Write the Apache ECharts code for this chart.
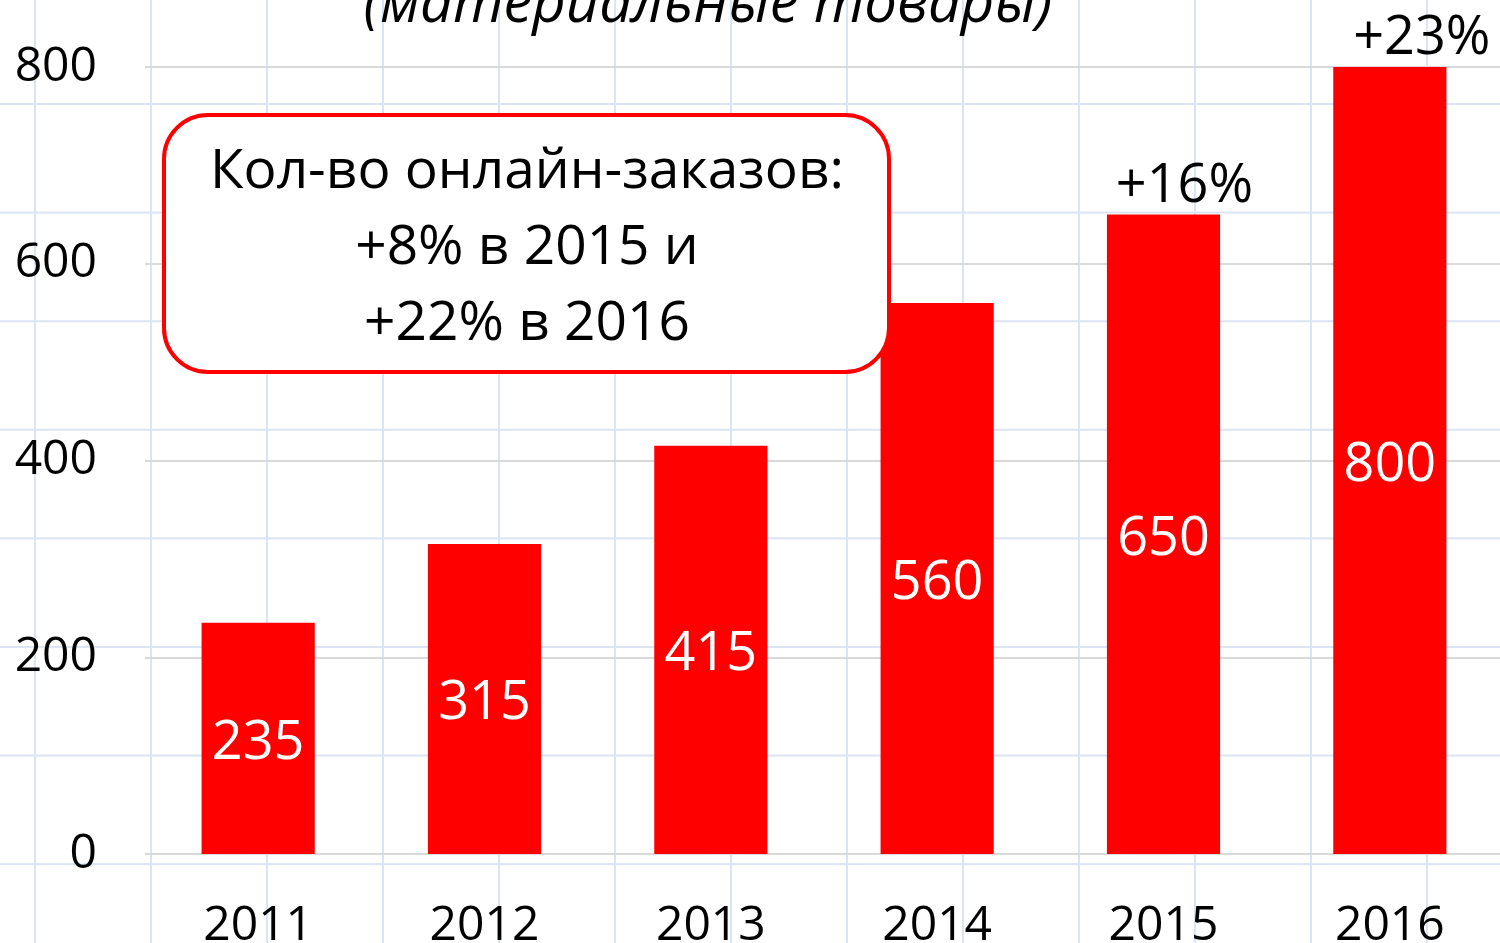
<!DOCTYPE html>
<html>
<head>
<meta charset="utf-8">
<script src="https://cdn.jsdelivr.net/npm/echarts@6/dist/echarts.min.js"></script>
<style>
html,body{margin:0;padding:0;width:1500px;height:943px;overflow:hidden;background:#fff;}
#c{width:1500px;height:943px;
background-image:linear-gradient(to right,#dae4f3 2px,transparent 2px),linear-gradient(to bottom,#dae4f3 2px,transparent 2px);
background-size:116px 108.6px;background-position:34px -5.6px;}
</style>
</head>
<body>
<div id="c"></div>
<script>
const categories = ['2011','2012','2013','2014','2015','2016'];
const values = [235, 315, 415, 560, 650, 800];
const growthLabels = ['', '', '', '', '+16%', '+23%'];
const yTicks = [0, 200, 400, 600, 800];
const titleText = '(материальные товары)';
const noteLines = ['Кол-во онлайн-заказов:', '+8% в 2015 и', '+22% в 2016'];

const FONT = '"Open Sans", "Noto Sans", sans-serif';
const labelOffsets = [[0,0],[0,0],[0,0],[0,0],[21,0],[32,0]];

const chart = echarts.init(document.getElementById('c'), null, {renderer:'canvas'});
chart.setOption({
  backgroundColor: 'transparent',
  animation: false,
  grid: {left: 145, top: 67, width: 1358, bottom: 89, containLabel: false, outerBoundsMode: 'none'},
  xAxis: {
    type: 'category',
    data: categories,
    axisLine: {show: false},
    axisTick: {show: false},
    axisLabel: {fontFamily: FONT, fontSize: 48, color: '#000', margin: 48}
  },
  yAxis: {
    type: 'value',
    min: yTicks[0],
    max: yTicks[yTicks.length-1],
    interval: 200,
    axisLine: {show: false},
    axisTick: {show: false},
    splitLine: {lineStyle: {color: '#d9d9d9', width: 2}},
    axisLabel: {fontFamily: FONT, fontSize: 48, color: '#000', margin: 48}
  },
  series: [
    {
      type: 'bar',
      data: values,
      barWidth: '50%',
      itemStyle: {color: '#ff0000'},
      label: {show: true, position: 'inside', offset: [0, 5], color: '#fff', fontFamily: FONT, fontSize: 54}
    },
    {
      type: 'bar',
      data: values.map((v,i)=>({value: v, label: {offset: labelOffsets[i]}})),
      barWidth: '50%',
      barGap: '-100%',
      itemStyle: {color: 'transparent'},
      label: {show: true, position: 'top', distance: 1, color: '#000', fontFamily: FONT, fontSize: 54,
        formatter: p => growthLabels[p.dataIndex]}
    }
  ],
  graphic: [
    {
      type: 'text', x: 708, y: -24, z: 100,
      style: {text: titleText, fill: '#000', font: 'italic 58px ' + FONT,
        textAlign: 'center', textVerticalAlign: 'top'}
    },
    {type: 'rect', z: 100, shape: {x: 164, y: 115, width: 725, height: 257, r: 44},
     style: {fill: '#fff', stroke: '#ff0000', lineWidth: 4}},
    {type: 'text', z: 101, x: 527, y: 172,
     style: {text: noteLines[0], fill: '#000', font: '55px ' + FONT, textAlign: 'center', textVerticalAlign: 'middle'}},
    {type: 'text', z: 101, x: 527, y: 248,
     style: {text: noteLines[1], fill: '#000', font: '55px ' + FONT, textAlign: 'center', textVerticalAlign: 'middle'}},
    {type: 'text', z: 101, x: 527, y: 324,
     style: {text: noteLines[2], fill: '#000', font: '55px ' + FONT, textAlign: 'center', textVerticalAlign: 'middle'}}
  ]
});
</script>
</body>
</html>
